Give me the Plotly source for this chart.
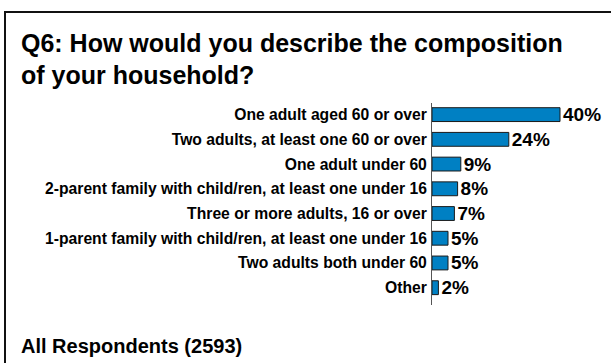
import plotly.graph_objects as go

# Survey responses, Q6 household composition (% of all respondents)
categories = [
    "One adult aged 60 or over",
    "Two adults, at least one 60 or over",
    "One adult under 60",
    "2-parent family with child/ren, at least one under 16",
    "Three or more adults, 16 or over",
    "1-parent family with child/ren, at least one under 16",
    "Two adults both under 60",
    "Other",
]
percentages = [40, 24, 9, 8, 7, 5, 5, 2]

title_lines = ["Q6: How would you describe the composition", "of your household?"]
base_note = "All Respondents (2593)"

W, H = 611, 363
M_L, M_R, M_T, M_B = 432, 19, 103, 58
X_MAX = 50
FONT = "Liberation Sans, Arial, sans-serif"


def px_x(px):
    return (px - M_L) / (W - M_L - M_R)


def px_y(py):
    return (H - M_B - py) / (H - M_T - M_B)


fig = go.Figure(
    go.Bar(
        x=percentages,
        y=categories,
        orientation="h",
        width=0.56,
        marker=dict(color="#0080C3", line=dict(color="#1a1a1a", width=1)),
        texttemplate="%{x}%",
        textposition="outside",
        constraintext="none",
        cliponaxis=False,
        textfont=dict(family=FONT, size=19, color="#000000", weight="bold"),
        hoverinfo="skip",
    )
)

annotations = [
    dict(text=title_lines[0], x=px_x(19), y=px_y(43), size=25),
    dict(text=title_lines[1], x=px_x(19), y=px_y(75), size=25),
    dict(text=base_note, x=px_x(19), y=px_y(346), size=20),
]

fig.update_layout(
    width=W,
    height=H,
    margin=dict(l=M_L, r=M_R, t=M_T, b=M_B),
    paper_bgcolor="white",
    plot_bgcolor="white",
    showlegend=False,
    xaxis=dict(range=[0, X_MAX], visible=False, fixedrange=True),
    yaxis=dict(
        categoryorder="array",
        categoryarray=categories,
        range=[7.7, -0.47],
        showline=True,
        linecolor="#555555",
        linewidth=1,
        showgrid=False,
        zeroline=False,
        ticks="",
        ticklabelstandoff=1,
        tickfont=dict(family=FONT, size=15.7, color="#000000", weight="bold"),
        fixedrange=True,
    ),
    annotations=[
        dict(
            text=a["text"],
            x=a["x"],
            y=a["y"],
            xref="paper",
            yref="paper",
            xanchor="left",
            yanchor="middle",
            showarrow=False,
            font=dict(family=FONT, size=a["size"], color="#000000", weight="bold"),
        )
        for a in annotations
    ],
    shapes=[
        # frame: top and left edges visible, the rest runs off the page
        dict(
            type="rect",
            xref="paper",
            yref="paper",
            x0=px_x(5),
            x1=px_x(W + 20),
            y0=px_y(H + 20),
            y1=px_y(12),
            line=dict(color="#111111", width=2),
            fillcolor="rgba(0,0,0,0)",
            layer="below",
        )
    ],
)

fig.write_html("out.html")
